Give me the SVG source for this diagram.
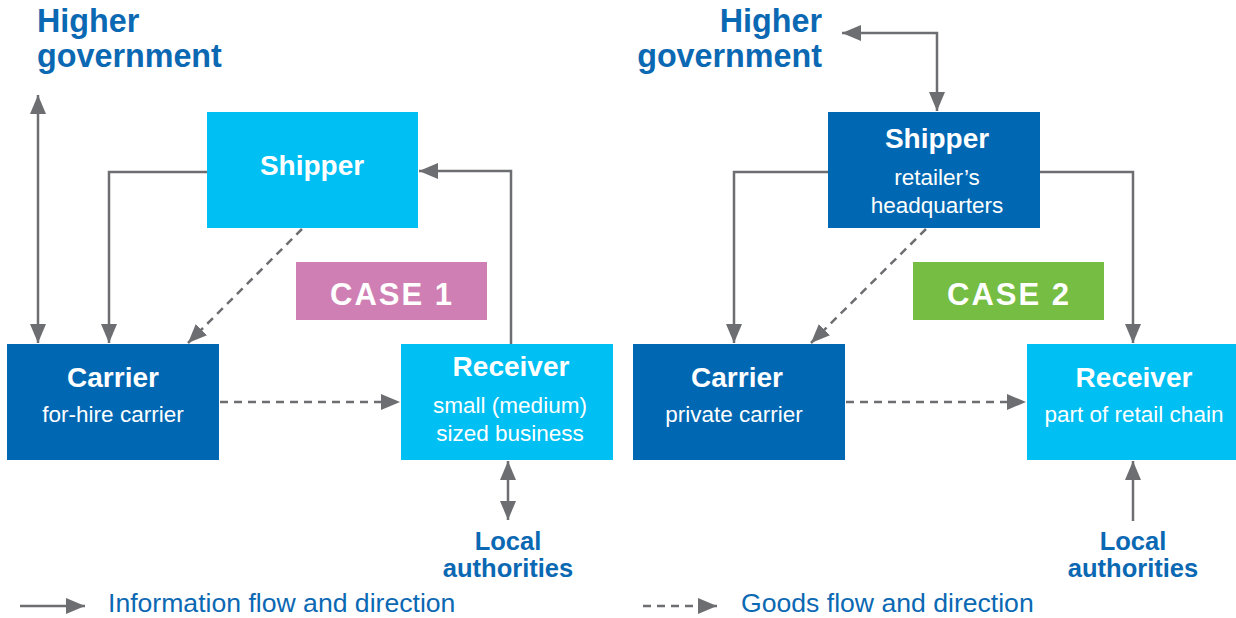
<svg xmlns="http://www.w3.org/2000/svg" width="1236" height="618" viewBox="0 0 1236 618">
<style>
  .light{fill:#00bff3}
  .dark{fill:#0068b3}
  .title{font-family:"Liberation Sans",Arial,sans-serif;font-weight:bold;font-size:28px;fill:#fff;text-anchor:middle}
  .sub{font-family:"Liberation Sans",Arial,sans-serif;font-size:22.5px;fill:#fff;text-anchor:middle}
  .gov{font-family:"Liberation Sans",Arial,sans-serif;font-weight:bold;font-size:32.3px;fill:#0b68b3}
  .loc{font-family:"Liberation Sans",Arial,sans-serif;font-weight:bold;font-size:25.5px;fill:#0b68b3;text-anchor:middle}
  .case{font-family:"Liberation Sans",Arial,sans-serif;font-weight:bold;font-size:31px;fill:#fff;text-anchor:middle;letter-spacing:2px}
  .leg{font-family:"Liberation Sans",Arial,sans-serif;font-size:26.6px;fill:#0b68b3}
  .info{fill:none;stroke:#6d6e71;stroke-width:2.5}
  .goods{fill:none;stroke:#6d6e71;stroke-width:2.5;stroke-dasharray:8 6}
</style>
<defs>
  <marker id="ah" markerUnits="userSpaceOnUse" markerWidth="22" markerHeight="18" refX="19" refY="8" orient="auto-start-reverse" viewBox="0 0 22 18">
    <path d="M0,0 L19,8 L0,16 z" fill="#6d6e71"/>
  </marker>
</defs>

<!-- Left panel labels -->
<g id="gov-left">
  <text class="gov" x="37" y="32">Higher</text>
  <text class="gov" x="37" y="67">government</text>
</g>
<g id="shipper-1">
  <rect class="light" x="207" y="112" width="211" height="116"/>
  <text class="title" x="312" y="175">Shipper</text>
</g>
<g id="carrier-1">
  <rect class="dark" x="7" y="344" width="212" height="116"/>
  <text class="title" x="113" y="387">Carrier</text>
  <text class="sub" x="113" y="422">for-hire carrier</text>
</g>
<g id="receiver-1">
  <rect class="light" x="401" y="344" width="212" height="116"/>
  <text class="title" x="511" y="376">Receiver</text>
  <text class="sub" x="510" y="413">small (medium)</text>
  <text class="sub" x="510" y="441">sized business</text>
</g>
<g id="case-1">
  <rect x="296" y="262" width="191" height="58" fill="#d07fb4"/>
  <text class="case" x="392" y="305">CASE 1</text>
</g>
<g id="local-1">
  <text class="loc" x="508" y="550">Local</text>
  <text class="loc" x="508" y="577">authorities</text>
</g>

<!-- Right panel labels -->
<g id="gov-right">
  <text class="gov" x="822" y="32" text-anchor="end">Higher</text>
  <text class="gov" x="822" y="67" text-anchor="end">government</text>
</g>
<g id="shipper-2">
  <rect class="dark" x="828" y="112" width="212" height="116"/>
  <text class="title" x="937" y="148">Shipper</text>
  <text class="sub" x="937" y="185">retailer’s</text>
  <text class="sub" x="937" y="213">headquarters</text>
</g>
<g id="carrier-2">
  <rect class="dark" x="633" y="344" width="212" height="116"/>
  <text class="title" x="737" y="387">Carrier</text>
  <text class="sub" x="734" y="422">private carrier</text>
</g>
<g id="receiver-2">
  <rect class="light" x="1027" y="344" width="209" height="116"/>
  <text class="title" x="1134" y="387">Receiver</text>
  <text class="sub" x="1134" y="422">part of retail chain</text>
</g>
<g id="case-2">
  <rect x="913" y="262" width="191" height="58" fill="#76bd43"/>
  <text class="case" x="1009" y="305">CASE 2</text>
</g>
<g id="local-2">
  <text class="loc" x="1133" y="550">Local</text>
  <text class="loc" x="1133" y="577">authorities</text>
</g>

<!-- Connectors -->
<g id="connectors">
  <line class="info" x1="38" y1="95" x2="38" y2="343" marker-start="url(#ah)" marker-end="url(#ah)"/>
  <polyline class="info" points="207,172 109,172 109,343" marker-end="url(#ah)"/>
  <polyline class="info" points="511,344 511,171 419,171" marker-end="url(#ah)"/>
  <line class="goods" x1="302" y1="229" x2="188" y2="343" marker-end="url(#ah)"/>
  <line class="goods" x1="220" y1="402" x2="400" y2="402" marker-end="url(#ah)"/>
  <line class="info" x1="508" y1="461" x2="508" y2="520" marker-start="url(#ah)" marker-end="url(#ah)"/>

  <polyline class="info" points="842,33 937,33 937,111" marker-start="url(#ah)" marker-end="url(#ah)"/>
  <polyline class="info" points="828,172 734,172 734,343" marker-end="url(#ah)"/>
  <polyline class="info" points="1040,172 1133,172 1133,343" marker-end="url(#ah)"/>
  <line class="goods" x1="926" y1="229" x2="811" y2="343" marker-end="url(#ah)"/>
  <line class="goods" x1="846" y1="402" x2="1026" y2="402" marker-end="url(#ah)"/>
  <line class="info" x1="1133" y1="521" x2="1133" y2="461" marker-end="url(#ah)"/>
</g>

<!-- Legend -->
<g id="legend">
  <line class="info" x1="20" y1="606" x2="85" y2="606" marker-end="url(#ah)"/>
  <text class="leg" x="108" y="612">Information flow and direction</text>
  <line class="goods" x1="643" y1="606" x2="717" y2="606" marker-end="url(#ah)"/>
  <text class="leg" x="741" y="612">Goods flow and direction</text>
</g>
</svg>
